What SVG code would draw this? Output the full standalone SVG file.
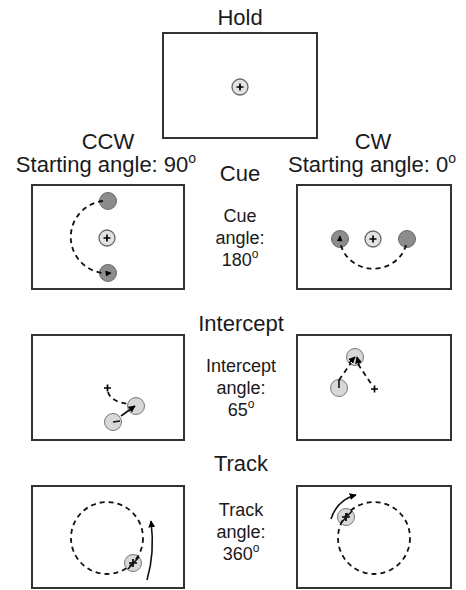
<svg xmlns="http://www.w3.org/2000/svg" width="466" height="590" viewBox="0 0 466 590">
<style>
.t{font-family:"Liberation Sans",Arial,sans-serif;font-size:22px;fill:#1a1a1a;text-anchor:middle}
.s{font-family:"Liberation Sans",Arial,sans-serif;font-size:18px;fill:#1a1a1a;text-anchor:middle}
.box{fill:#fff;stroke:#333;stroke-width:2}
.ctr{fill:#e2e2e2;stroke:#666;stroke-width:1.3}
.tg{fill:#8c8c8c;stroke:#6a6a6a;stroke-width:1}
.cur{fill:#d8d8d8;stroke:#777;stroke-width:1}
.dash{fill:none;stroke:#111;stroke-width:1.8;stroke-dasharray:5 4}
.sol{fill:none;stroke:#111;stroke-width:1.6}
.pl{stroke:#000;stroke-width:1.7}
</style>
<defs>
<marker id="ah" viewBox="0 0 10 10" refX="9" refY="5" markerWidth="6" markerHeight="6" orient="auto" markerUnits="userSpaceOnUse">
<path d="M0,0 L10,5 L0,10 z" fill="#000"/>
</marker>
<marker id="ah2" viewBox="0 0 10 10" refX="9" refY="5" markerWidth="7" markerHeight="7" orient="auto" markerUnits="userSpaceOnUse">
<path d="M0,0 L10,5 L0,10 z" fill="#000"/>
</marker>
</defs>

<g id="labels">
<text class="t" x="240" y="25">Hold</text>
<text class="t" x="108" y="149">CCW</text>
<text class="t" x="373" y="149">CW</text>
<text class="t" x="106" y="172">Starting angle: 90<tspan font-size="14" dy="-9">o</tspan></text>
<text class="t" x="372" y="172">Starting angle: 0<tspan font-size="14" dy="-9">o</tspan></text>
<text class="t" x="240" y="181">Cue</text>
<text class="s" x="240" y="222">Cue</text>
<text class="s" x="240" y="244">angle:</text>
<text class="s" x="240" y="266">180<tspan font-size="12" dy="-8">o</tspan></text>
<text class="t" x="241" y="331">Intercept</text>
<text class="s" x="241" y="372">Intercept</text>
<text class="s" x="241" y="394">angle:</text>
<text class="s" x="241" y="416">65<tspan font-size="12" dy="-8">o</tspan></text>
<text class="t" x="241" y="471">Track</text>
<text class="s" x="241" y="516">Track</text>
<text class="s" x="241" y="538">angle:</text>
<text class="s" x="241" y="560">360<tspan font-size="12" dy="-8">o</tspan></text>
</g>

<g id="hold">
<rect class="box" x="163" y="33" width="154" height="105"/>
<circle class="ctr" cx="240" cy="87" r="8"/>
<path class="pl" d="M236.5,87 h7 M240,83.5 v7"/>
</g>

<g id="cue-ccw">
<rect class="box" x="32" y="185" width="152" height="104"/>
<circle class="tg" cx="108" cy="201" r="8.5"/>
<circle class="tg" cx="108" cy="273" r="8.5"/>
<circle class="ctr" cx="107" cy="238" r="8"/>
<path class="pl" d="M103.5,238 h7 M107,234.5 v7"/>
</g>

<g id="cue-cw">
<rect class="box" x="297" y="185" width="154" height="104"/>
<circle class="tg" cx="340" cy="239" r="8.5"/>
<circle class="tg" cx="407" cy="239" r="8.5"/>
<circle class="ctr" cx="373" cy="239" r="8"/>
<path class="pl" d="M369.5,239 h7 M373,235.5 v7"/>
</g>

<g id="intercept-ccw">
<rect class="box" x="32" y="335" width="152" height="105"/>
<circle class="cur" cx="136" cy="406" r="8.5"/>
<circle class="cur" cx="113" cy="422" r="8.5"/>
<path class="pl" d="M104,388 h7 M107.5,384.5 v7"/>
</g>

<g id="intercept-cw">
<rect class="box" x="297" y="335" width="154" height="105"/>
<circle class="cur" cx="355" cy="357" r="8.5"/>
<circle class="cur" cx="339" cy="388" r="8.5"/>
<path class="pl" d="M371,389 h7 M374.5,385.5 v7"/>
</g>

<g id="track-ccw">
<rect class="box" x="32" y="486" width="152" height="102"/>
<circle class="cur" cx="133" cy="563" r="8.5"/>
<path class="pl" d="M129,563 h8 M133,559 v8"/>
<path class="sol" d="M128,569 L139,557"/>
</g>

<g id="track-cw">
<rect class="box" x="297" y="486" width="154" height="102"/>
<circle class="cur" cx="346" cy="517" r="8.5"/>
<path class="pl" d="M342,517 h8 M346,513 v8"/>
<path class="sol" d="M341,523 L352,511"/>
</g>

<g id="connectors">
<path class="dash" d="M103,201 A36,36 0 0 0 111,273" marker-end="url(#ah)"/>
<path class="dash" d="M406,245 A33.5,31 0 0 1 340,236" marker-end="url(#ah)"/>
<path class="dash" d="M108,392 Q111,402 129,404"/>
<path class="sol" d="M113,422 L120,421"/>
<path class="sol" d="M121,416 L135,406" marker-end="url(#ah2)"/>
<path class="dash" d="M339,380 L351,363"/>
<path class="dash" d="M358,364 L372,385"/>
<path class="sol" d="M339,388 L339,380"/>
<path class="sol" d="M349,363 L355,357" marker-end="url(#ah2)"/>
<path class="sol" d="M359,365 L357,357" marker-end="url(#ah2)"/>
<circle class="dash" cx="107" cy="538" r="36"/>
<path class="sol" d="M147,580 Q155,553 151,521" marker-end="url(#ah2)"/>
<circle class="dash" cx="374" cy="538" r="36"/>
<path class="sol" d="M331,519 Q337,500 356,495" marker-end="url(#ah2)"/>
</g>
</svg>
